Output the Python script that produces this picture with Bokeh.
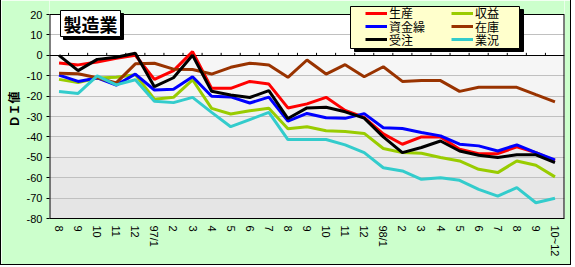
import math
from bokeh.plotting import figure
from bokeh.models import Range1d, FixedTicker, BoxAnnotation, Label, Legend, LegendItem
from bokeh.embed import file_html
from bokeh.resources import INLINE

categories = ["8", "9", "10", "11", "12", "97/1", "2", "3", "4", "5", "6", "7", "8", "9",
              "10", "11", "12", "98/1", "2", "3", "4", "5", "6", "7", "8", "9", "10~12"]

seisan = [-3.8, -4.7, -3.3, -1.5, 0.0, -11.8, -7.5, 1.8, -16.2, -16.2, -12.8, -14.1, -25.8, -23.8,
          -20.6, -27.0, -30.5, -38.5, -43.6, -40.0, -40.0, -46.0, -48.2, -48.2, -44.9, -47.7, -51.8]
shueki = [-11.8, -13.4, -11.1, -10.8, -9.5, -21.5, -20.6, -12.0, -26.0, -28.8, -27.2, -26.0, -36.0, -35.0,
          -37.0, -37.4, -38.3, -45.7, -47.7, -48.0, -50.1, -51.8, -55.9, -57.5, -51.8, -53.9, -59.6]
shikinguri = [-9.7, -12.8, -11.1, -14.6, -9.2, -17.0, -16.7, -10.5, -20.1, -20.4, -23.4, -20.5, -32.3, -28.5,
              -30.6, -30.9, -28.6, -35.5, -35.9, -37.8, -39.5, -43.6, -44.4, -46.9, -43.9, -47.7, -51.3]
zaiko = [-8.8, -9.0, -11.0, -13.5, -4.2, -3.9, -6.8, -7.0, -9.2, -5.9, -3.9, -4.7, -10.8, -2.3,
         -9.2, -4.6, -10.5, -5.6, -12.8, -12.4, -12.4, -17.7, -15.7, -15.7, -15.7, -19.3, -22.8]
juchu = [0.0, -7.5, -2.0, -1.0, 1.0, -15.4, -11.0, 0.0, -17.6, -19.5, -20.7, -17.3, -31.0, -25.8,
         -25.5, -27.7, -30.8, -40.0, -47.7, -45.2, -42.0, -46.9, -49.0, -50.1, -48.8, -48.8, -52.6]
gyokyo = [-17.8, -18.7, -10.1, -14.5, -12.0, -22.5, -23.2, -20.6, -28.0, -35.0, -31.5, -28.0, -41.3, -41.3,
          -41.3, -43.9, -47.7, -55.1, -56.7, -60.8, -60.0, -61.3, -65.7, -69.0, -64.9, -72.3, -70.1]

series_names = ["生産", "収益", "資金繰", "在庫", "受注", "業況"]
series_values = [seisan, shueki, shikinguri, zaiko, juchu, gyokyo]
series_colors = ["#FF0000", "#99CC00", "#0000FF", "#993300", "#000000", "#33CCCC"]

y_ticks = [20, 10, 0, -10, -20, -30, -40, -50, -60, -70, -80]
y_tick_labels = ["20", "10", "0", "-10", "-20", "-30", "-40", "-50", "-60", "-70", "-80"]

title_text = "製造業"
y_title = "ＤＩ値"

n = len(categories)
x = list(range(n))

# layout (canvas pixels; the page has a 1px CSS border on the left)
W, H = 571, 265
PLOT_L, PLOT_R, PLOT_T, PLOT_B = 46, 563, 14, 218   # plot area (value 20 .. -80)
GREEN = "#CCFFCC"

y_lo, y_hi = min(y_ticks), max(y_ticks)
y_top = y_hi + PLOT_T * (y_hi - y_lo) / (PLOT_B - PLOT_T)   # frame reaches canvas top

p = figure(width=W, height=H, output_backend="svg", toolbar_location=None,
           x_range=Range1d(-0.5, n - 0.5), y_range=Range1d(y_lo, y_top),
           min_border_left=PLOT_L, min_border_right=W - PLOT_R,
           min_border_top=0, min_border_bottom=H - PLOT_B)
p.styles = {"border-left": "1px solid black", "border-right": "1px solid black",
            "border-bottom": "1px solid black"}
p.border_fill_color = GREEN
p.background_fill_color = "white"
p.outline_line_color = None

# green strip above the plot area
p.quad(left=-0.5, right=n - 0.5, top=y_top, bottom=y_hi, fill_color=GREEN,
       line_color=None, level="image")

# grey gradient bands below zero
neg = sorted([t for t in y_ticks if t <= 0], reverse=True)
tops = neg[:-1]
bottoms = neg[1:]
k = len(tops)
band_colors = []
for i in range(k):
    g = int(round(246 - (246 - 229) * i / max(1, k - 1)))
    band_colors.append("#%02x%02x%02x" % (g, g, g))
p.quad(left=-0.5, right=n - 0.5, top=tops, bottom=bottoms, fill_color=band_colors,
       line_color=None, level="image")

# grid
p.xgrid.visible = False
p.ygrid.ticker = FixedTicker(ticks=y_ticks)
p.ygrid.grid_line_color = "#C0C0C0"
p.ygrid.grid_line_width = 1

# plot-area border (top, left, right) and the category axis line at zero
p.hspan(y=[y_hi], line_color="black", line_width=1)
p.segment(x0=[-0.5, n - 0.5], y0=[y_lo, y_lo], x1=[-0.5, n - 0.5], y1=[y_hi, y_hi],
          line_color="black", line_width=2)
p.hspan(y=[0], line_color="black", line_width=1)
bounds = [i + 0.5 for i in range(n - 1)]
p.segment(x0=bounds, y0=[0] * len(bounds), x1=bounds, y1=[1.2] * len(bounds),
          line_color="black", line_width=1)

rs = []
for vals, col in zip(series_values, series_colors):
    rs.append(p.line(x, vals, line_color=col, line_width=3))

# axes
yax = p.yaxis[0]
yax.ticker = FixedTicker(ticks=y_ticks)
yax.major_label_overrides = {t: l for t, l in zip(y_ticks, y_tick_labels)}
yax.minor_tick_line_color = None
yax.major_tick_out = 3
yax.major_tick_in = 0
yax.major_tick_line_color = "black"
yax.axis_line_color = None
yax.major_label_standoff = 4
yax.major_label_text_font = "Liberation Sans"
yax.major_label_text_font_size = "11px"
yax.major_label_text_color = "black"
yax.axis_label = y_title
yax.axis_label_text_font = "Noto Sans CJK JP"
yax.axis_label_text_font_size = "12px"
yax.axis_label_text_font_style = "bold"
yax.axis_label_text_color = "black"
yax.axis_label_standoff = 2

xax = p.xaxis[0]
xax.ticker = FixedTicker(ticks=x)
xax.major_label_overrides = {i: c for i, c in zip(x, categories)}
xax.minor_tick_line_color = None
xax.major_tick_line_color = None
xax.major_tick_out = 0
xax.major_tick_in = 0
xax.axis_line_color = "black"
xax.major_label_orientation = -math.pi / 2
xax.major_label_standoff = 7
xax.major_label_text_font = "Liberation Sans"
xax.major_label_text_font_size = "11px"
xax.major_label_text_color = "black"

CANVAS = dict(left_units="canvas", right_units="canvas", top_units="canvas", bottom_units="canvas")


def cbox(left, top, right, bottom, fill):
    p.add_layout(BoxAnnotation(left=left, right=right, top=top, bottom=bottom,
                               fill_color=fill, fill_alpha=1, line_color="black",
                               line_alpha=1, line_width=1, **CANVAS))


# title box with shadow
cbox(61, 13, 121, 39, "black")
cbox(58, 10, 118, 36, "white")
p.add_layout(Label(x=88, y=23, x_units="canvas", y_units="canvas", text=title_text,
                   text_font="Noto Sans CJK JP", text_font_size="18px", text_font_style="bold",
                   text_align="center", text_baseline="middle", text_color="black"))

# legend box with shadow
cbox(352, 9, 521, 51, "black")
cbox(348, 6, 517, 48, "#FFFFCC")

# legend entries: 2 columns, filled row by row
col_x = [362, 448]
row_y = [12.7, 26.0, 39.3]
entry_h = 20
for i, (nm, r) in enumerate(zip(series_names, rs)):
    rr, cc = divmod(i, 2)
    x0 = col_x[cc]
    yc = row_y[rr]
    lg = Legend(items=[LegendItem(label=nm, renderers=[r])],
                location=(x0 - PLOT_L, PLOT_B - (yc + entry_h / 2)), margin=0, padding=0, spacing=0,
                glyph_width=22, glyph_height=entry_h, label_height=entry_h, label_standoff=2,
                label_width=40, background_fill_alpha=0, border_line_alpha=0,
                label_text_font="Noto Sans CJK JP", label_text_font_size="12px",
                label_text_color="black", label_text_baseline="middle")
    p.add_layout(lg)

open("out.html", "w").write(file_html(p, INLINE))
